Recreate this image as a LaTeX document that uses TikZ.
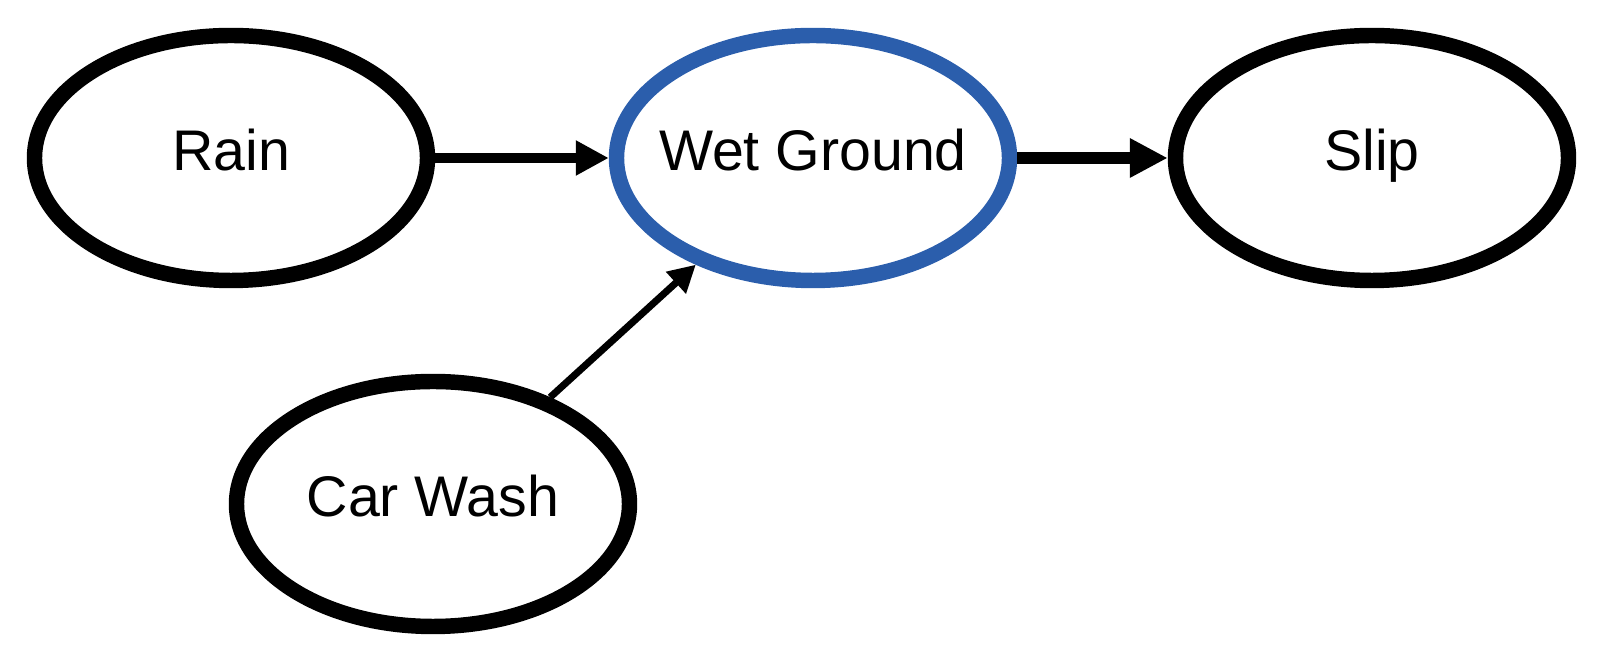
\documentclass[tikz,border=0pt]{standalone}
\usepackage{amsmath}
\usepackage{fontspec}
\setmainfont{Liberation Sans}
\usepackage{tikz}
\usetikzlibrary{shapes.geometric,arrows.meta}
\definecolor{wetblue}{RGB}{43,94,172}

\begin{document}
\begin{tikzpicture}
            [auto=left,every node/.style={ellipse,draw,line width=4.4pt,minimum width=3.93cm,minimum height=2.45cm,inner xsep=-6mm,text height=0.7em,text depth=0pt,font=\fontsize{16.3}{19}\selectfont}]
            \useasboundingbox (0,0) rectangle (16.04,6.64);
            \node (rain) at (2.31, 5.06) {Rain};
            \node[draw=wetblue] (wet) at (8.13, 5.06) {Wet Ground};
            \node (slip) at (13.72, 5.06) {Slip};
            \node (wash) at (4.33, 1.60) {Car Wash};
            \draw[line width=2.6pt, -{Triangle[length=0.33cm,width=0.33cm]}] (rain) -- (wet);
            \draw[line width=3.3pt, -{Triangle[length=0.38cm,width=0.37cm]}] (wet) -- (slip);
            \draw[line width=2pt, -{Triangle[length=0.27cm,width=0.28cm]}] (wash) -- (wet);

        \end{tikzpicture}
\end{document}
